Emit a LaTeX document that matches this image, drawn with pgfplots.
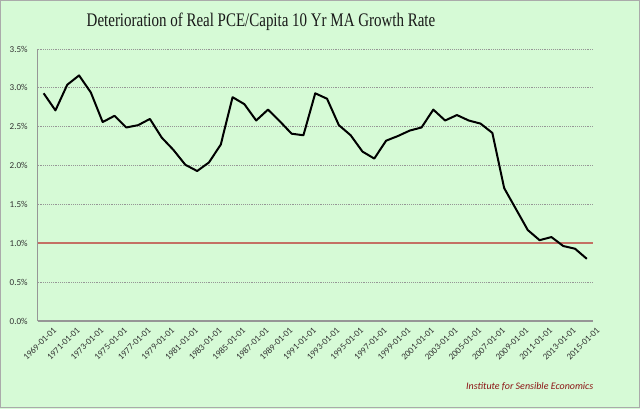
\documentclass[border=0pt]{standalone}
\usepackage{fontspec}
\setmainfont{Carlito}
\newfontfamily\titlefont[FakeStretch=0.78]{Liberation Serif}
\usepackage{pgfplots}
\pgfplotsset{compat=1.18}
\definecolor{bg}{RGB}{214,250,214}
\definecolor{frame}{RGB}{170,170,170}
\definecolor{gridc}{RGB}{150,150,150}
\definecolor{refc}{RGB}{196,112,100}
\definecolor{foot}{RGB}{140,20,20}
\pgfplotstableread{
x y
0 2.93
1 2.71
2 3.04
3 3.16
4 2.94
5 2.56
6 2.64
7 2.49
8 2.52
9 2.60
10 2.36
11 2.20
12 2.01
13 1.93
14 2.04
15 2.27
16 2.88
17 2.79
18 2.58
19 2.72
20 2.57
21 2.41
22 2.39
23 2.93
24 2.86
25 2.52
26 2.39
27 2.18
28 2.09
29 2.32
30 2.38
31 2.45
32 2.49
33 2.72
34 2.58
35 2.65
36 2.58
37 2.54
38 2.42
39 1.71
40 1.44
41 1.17
42 1.04
43 1.08
44 0.965
45 0.93
46 0.80
}\pcedata
\begin{document}
\begin{tikzpicture}
\fill[bg] (0pt,0pt) rectangle (480pt,-306.75pt);
\draw[frame, line width=1pt] (0.5pt,-0.5pt) rectangle (479.5pt,-305.5pt);
\node[font=\titlefont\fontsize{14.4pt}{16pt}\selectfont, text=black!90] at (195.75pt,-16.5pt) {Deterioration of Real PCE/Capita 10 Yr MA Growth Rate};
\begin{axis}[
  at={(28.3pt,-240.75pt)}, anchor=south west,
  scale only axis, width=416.25pt, height=204pt,
  xmin=-0.5, xmax=46.5, ymin=0, ymax=3.5,
  xtick={0,2,...,46},
  xticklabels={1969-01-01,1971-01-01,1973-01-01,1975-01-01,1977-01-01,1979-01-01,1981-01-01,1983-01-01,1985-01-01,1987-01-01,1989-01-01,1991-01-01,1993-01-01,1995-01-01,1997-01-01,1999-01-01,2001-01-01,2003-01-01,2005-01-01,2007-01-01,2009-01-01,2011-01-01,2013-01-01,2015-01-01},
  ytick={0,0.5,...,3.5},
  yticklabel={\pgfmathprintnumber[fixed,fixed zerofill,precision=1]{\tick}\%},
  /pgf/number format/assume math mode=true,
  major tick length=0pt,
  axis x line*=bottom, axis y line*=left,
  axis line style={-, gridc, line width=0.8pt},
  ymajorgrids, grid style={densely dotted, gridc, line width=0.6pt},
  xticklabel style={rotate=45, anchor=east, font=\fontsize{6.8pt}{8pt}\selectfont, text=black!80, yshift=-10pt, xshift=3pt, inner sep=1pt},
  yticklabel style={font=\fontsize{6.8pt}{8pt}\selectfont, text=black!80, xshift=-4pt},
  clip=false,
]
\addplot[refc, line width=1.2pt] coordinates {(-0.5,1) (46.5,1)};
\addplot[black, line width=1.5pt, line join=round] table[x=x,y=y] {\pcedata};
\end{axis}
\node[anchor=east, font=\itshape\fontsize{7.5pt}{9pt}\selectfont, text=foot] at (448.5pt,-290pt) {Institute for Sensible Economics};
\end{tikzpicture}
\end{document}
